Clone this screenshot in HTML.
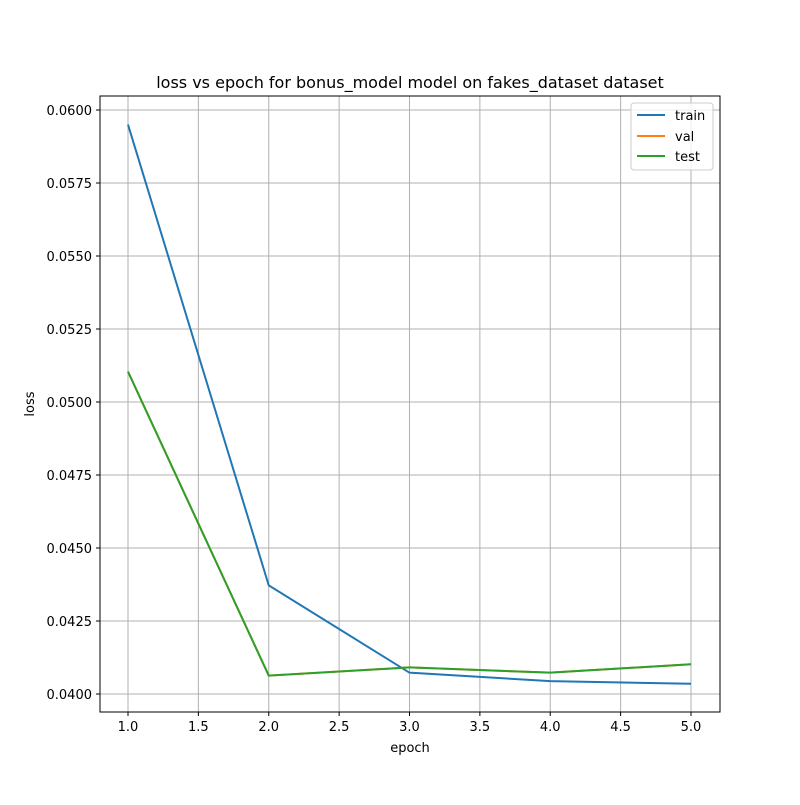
<!DOCTYPE html>
<html><head><meta charset="utf-8"><style>
body{margin:0;background:#fff;font-family:"Liberation Sans","DejaVu Sans",sans-serif;}
</style></head><body>
<svg id="chart" width="800" height="800" xmlns="http://www.w3.org/2000/svg" font-family="DejaVu Sans, Liberation Sans, sans-serif">
<defs><clipPath id="plotclip"><rect x="100" y="96" width="620" height="616"/></clipPath></defs>
<rect width="800" height="800" fill="#fff"/>
<text x="410" y="88" text-anchor="middle" font-size="16">loss vs epoch for bonus_model model on fakes_dataset dataset</text>
<g id="grid"></g>
<g id="ticks"></g>
<g id="lines" clip-path="url(#plotclip)"></g>
<rect x="100" y="96" width="620" height="616" fill="none" stroke="#000" stroke-width="1"/>
<text x="410" y="752" text-anchor="middle" font-size="13">epoch</text>
<text transform="translate(34,404) rotate(-90)" text-anchor="middle" font-size="13">loss</text>
<g>
<rect x="631" y="103" width="82" height="67" rx="3" fill="#fff" fill-opacity="0.8" stroke="#ccc"/>
<line x1="637" y1="115" x2="665" y2="115" stroke="#1f77b4" stroke-width="2"/><text x="675" y="120" font-size="13">train</text>
<line x1="637" y1="136" x2="665" y2="136" stroke="#ff7f0e" stroke-width="2"/><text x="675" y="141" font-size="13">val</text>
<line x1="637" y1="156" x2="665" y2="156" stroke="#2ca02c" stroke-width="2"/><text x="675" y="161" font-size="13">test</text>
</g>
</svg>
<script>
const epochs=[1,2,3,4,5];
const trainLoss=[0.0595,0.04372,0.04073,0.04044,0.04035];
const valLoss=[0.05104,0.04063,0.04091,0.04073,0.04102];
const testLoss=[0.05104,0.04063,0.04091,0.04073,0.04102];
const xTicks=[1.0,1.5,2.0,2.5,3.0,3.5,4.0,4.5,5.0];
const yTicks=[0.04,0.0425,0.045,0.0475,0.05,0.0525,0.055,0.0575,0.06];
const NS="http://www.w3.org/2000/svg";
function xs(v){return 128+(v-1)*140.75;}
function ys(v){return 694-(v-0.04)*29200;}
const grid=document.getElementById('grid'),ticks=document.getElementById('ticks'),lines=document.getElementById('lines');
function mk(t,a,p){const e=document.createElementNS(NS,t);for(const k in a)e.setAttribute(k,a[k]);p.appendChild(e);return e;}
xTicks.forEach(v=>{const x=xs(v);
const g=mk('line',{x1:x,x2:x,y1:96,y2:712,stroke:'#b0b0b0','stroke-width':1},grid);


mk('line',{x1:x,x2:x,y1:712,y2:716,stroke:'#000'},ticks);
const t=mk('text',{x:x,y:731,'text-anchor':'middle','font-size':13},ticks);t.textContent=v.toFixed(1);

});
yTicks.forEach(v=>{const y=ys(v);
const g=mk('line',{x1:100,x2:720,y1:y,y2:y,stroke:'#b0b0b0','stroke-width':1},grid);


mk('line',{x1:96,x2:100,y1:y,y2:y,stroke:'#000'},ticks);
const t=mk('text',{x:92,y:y+5,'text-anchor':'end','font-size':13},ticks);t.textContent=v.toFixed(4);

});
[[trainLoss,'#1f77b4','train-line'],[valLoss,'#ff7f0e','val-line'],[testLoss,'#2ca02c','test-line']].forEach(([d,c,n])=>{
const p=mk('polyline',{points:epochs.map((e,i)=>xs(e)+','+ys(d[i])).join(' '),fill:'none',stroke:c,'stroke-width':2},lines);

});
</script>
</body></html>
